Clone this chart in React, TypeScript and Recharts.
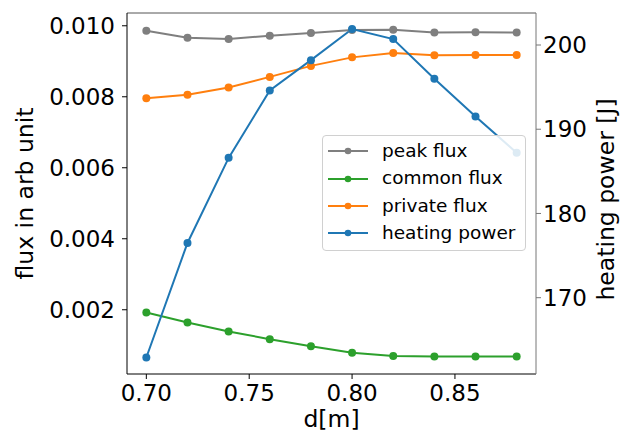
import { LineChart, Line, XAxis, YAxis, Legend, ReferenceLine } from "recharts";

const dValues = [0.7, 0.72, 0.74, 0.76, 0.78, 0.8, 0.82, 0.84, 0.86, 0.88];
const peakFlux = [0.00986, 0.00966, 0.00963, 0.00972, 0.0098, 0.00988, 0.00989, 0.00981, 0.00982, 0.00981];
const commonFlux = [0.00192, 0.00164, 0.00139, 0.00117, 0.00097, 0.00079, 0.0007, 0.00068, 0.00068, 0.00068];
const privateFlux = [0.00796, 0.00806, 0.00826, 0.00856, 0.00887, 0.00911, 0.00923, 0.00917, 0.00918, 0.00918];
const heatingPower = [162.9, 176.5, 186.6, 194.6, 198.2, 201.9, 200.7, 196.0, 191.5, 187.2];

const xTicks = [0.7, 0.75, 0.8, 0.85];
const fluxTicks = [0.002, 0.004, 0.006, 0.008, 0.01];
const powerTicks = [170, 180, 190, 200];

const data = dValues.map((d, i) => ({
  d,
  peak: peakFlux[i],
  common: commonFlux[i],
  private: privateFlux[i],
  heating: heatingPower[i],
}));

const series = [
  { key: "peak", name: "peak flux", color: "#7f7f7f" },
  { key: "common", name: "common flux", color: "#2ca02c" },
  { key: "private", name: "private flux", color: "#ff7f0e" },
  { key: "heating", name: "heating power", color: "#1f77b4" },
];

const FONT = "DejaVu Sans, sans-serif";
const FLUX_DOMAIN = [0.00019, 0.01036];

function LegendBox() {
  return (
    <div
      style={{
        background: "rgba(255,255,255,0.85)",
        border: "1px solid #d0d0d0",
        borderRadius: 4,
        paddingTop: 1.5,
        boxSizing: "border-box",
        width: 204,
        height: 116,
        fontFamily: FONT,
        fontSize: 18.5,
        color: "#000",
      }}
    >
      {series.map((s) => (
        <div key={s.key} style={{ display: "flex", alignItems: "center", height: 27.4 }}>
          <svg width={54} height={14} style={{ marginLeft: 5, flex: "none" }}>
            <line x1={0} y1={7} x2={40} y2={7} stroke={s.color} strokeWidth={2} />
            <circle cx={20} cy={7} r={3.3} fill={s.color} />
          </svg>
          <span style={{ lineHeight: 1, whiteSpace: "nowrap" }}>{s.name}</span>
        </div>
      ))}
    </div>
  );
}

export default function App() {
  return (
    <div style={{ position: "absolute", left: 0, top: 0, background: "#fff" }}>
      <LineChart width={633} height={435} data={data} margin={{ top: 13, right: 0, bottom: 0, left: 0 }}>
        <XAxis
          dataKey="d"
          type="number"
          domain={[0.6906, 0.8894]}
          ticks={xTicks}
          tickFormatter={(v: number) => v.toFixed(2)}
          height={61}
          tickSize={5}
          tickMargin={6}
          tick={{ fill: "#000", fontSize: 23, fontFamily: FONT }}
          axisLine={{ stroke: "#000", strokeWidth: 1 }}
          tickLine={{ stroke: "#000" }}
          allowDataOverflow
          label={(props: any) => {
            const vb = props.viewBox;
            return (
              <text x={vb.x + vb.width / 2} y={427} textAnchor="middle" fontSize={23.5} fontFamily={FONT} fill="#000">
                d[m]
              </text>
            );
          }}
        />
        <YAxis
          yAxisId="left"
          type="number"
          domain={FLUX_DOMAIN}
          ticks={fluxTicks}
          tickFormatter={(v: number) => v.toFixed(3)}
          width={127}
          tickSize={5}
          tickMargin={7}
          tick={{ fill: "#000", fontSize: 23, fontFamily: FONT }}
          axisLine={{ stroke: "#000" }}
          tickLine={{ stroke: "#000" }}
          allowDataOverflow
          label={(props: any) => {
            const vb = props.viewBox;
            const cy = vb.y + vb.height / 2;
            return (
              <text x={33} y={cy} textAnchor="middle" fontSize={23.5} fontFamily={FONT} fill="#000" transform={`rotate(-90, 33, ${cy})`}>
                flux in arb unit
              </text>
            );
          }}
        />
        <YAxis
          yAxisId="right"
          orientation="right"
          type="number"
          domain={[160.94, 203.8]}
          ticks={powerTicks}
          width={97}
          tickSize={5}
          tickMargin={2}
          tick={{ fill: "#000", fontSize: 23, fontFamily: FONT }}
          axisLine={{ stroke: "#777" }}
          tickLine={{ stroke: "#777" }}
          allowDataOverflow
          label={(props: any) => {
            const vb = props.viewBox;
            const cy = vb.y + vb.height / 2 + 6;
            return (
              <text x={614} y={cy} textAnchor="middle" fontSize={23.5} fontFamily={FONT} fill="#000" transform={`rotate(-90, 614, ${cy})`}>
                heating power [J]
              </text>
            );
          }}
        />
        <ReferenceLine yAxisId="left" y={FLUX_DOMAIN[1]} stroke="#555" strokeWidth={1} />
        {series.map((s) => (
          <Line
            key={s.key}
            yAxisId={s.key === "heating" ? "right" : "left"}
            dataKey={s.key}
            name={s.name}
            stroke={s.color}
            strokeWidth={2}
            dot={{ r: 4, fill: s.color, stroke: s.color, strokeWidth: 0 }}
            activeDot={false}
            isAnimationActive={false}
          />
        ))}
        <Legend
          layout="vertical"
          align="center"
          verticalAlign="middle"
          content={() => <LegendBox />}
          wrapperStyle={{ left: 322, top: 135, width: 204, height: 116 }}
        />
      </LineChart>
    </div>
  );
}
